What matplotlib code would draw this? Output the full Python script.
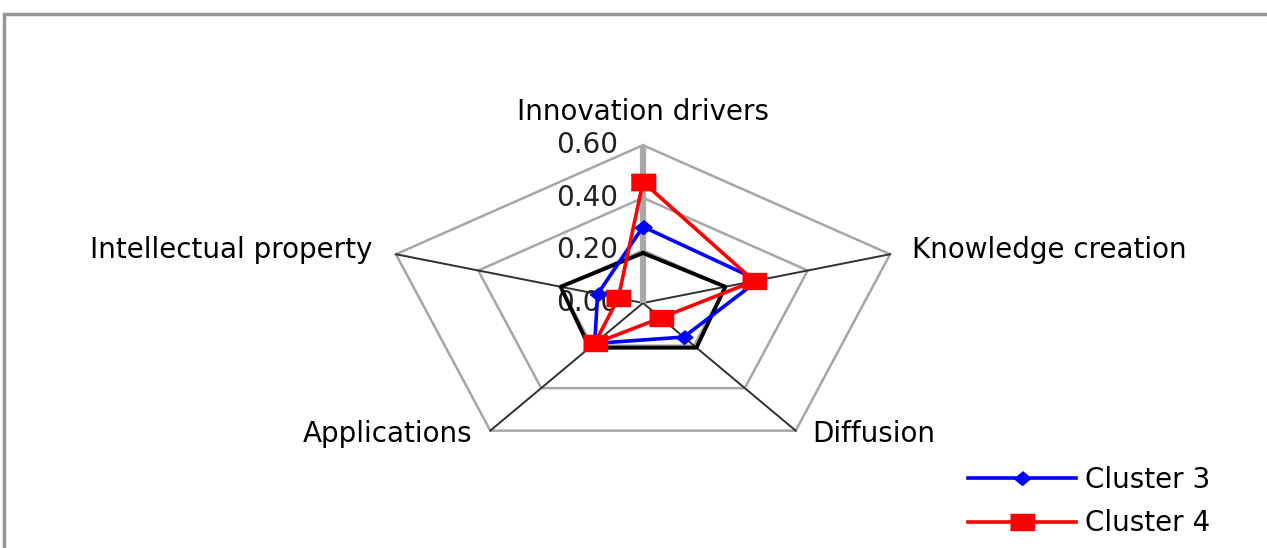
import numpy as np
import matplotlib.pyplot as plt
from matplotlib.patches import Rectangle

plt.rcParams['font.family'] = ['DejaVu Sans']

# categories, clockwise from the top
categories = ['Innovation drivers', 'Knowledge creation', 'Diffusion',
              'Applications', 'Intellectual property']
cluster3 = [0.29, 0.28, 0.16, 0.19, 0.11]
cluster4 = [0.46, 0.27, 0.07, 0.19, 0.06]
overall = [0.19, 0.20, 0.21, 0.21, 0.20]
grid_levels = [0.2, 0.4, 0.6]
tick_values = [0.0, 0.2, 0.4, 0.6]
tick_labels = ['0.00', '0.20', '0.40', '0.60']

W, H = 1267, 548
fig = plt.figure(figsize=(W / 100, H / 100), dpi=100)
ax = fig.add_axes([0, 0, 1, 1])

# the original chart is stretched sideways: 433 px per unit across, 263 px per unit up
cx, cy = 643, 303
sx, sy = 433, 263
ax.set_xlim(-cx / sx, (W - cx) / sx)
ax.set_ylim(-(H - cy) / sy, cy / sy)
ax.axis('off')

theta = np.deg2rad(np.arange(5) * 72)


def to_xy(vals, closed=True):
    v = np.asarray(vals, dtype=float)
    x = v * np.sin(theta)
    y = v * np.cos(theta)
    if closed:
        x = np.append(x, x[0])
        y = np.append(y, y[0])
    return x, y


# grid pentagons
for lv in grid_levels:
    gx, gy = to_xy([lv] * 5)
    ax.plot(gx, gy, color='#a6a6a6', lw=1.8, zorder=1)

# spokes
ex, ey = to_xy([0.6] * 5, closed=False)
for i in range(1, 5):
    ax.plot([0, ex[i]], [0, ey[i]], color='#303030', lw=1.4, zorder=1)
ax.plot([0, 0], [0, 0.6], color='#a8a8a8', lw=4.5, zorder=1, solid_capstyle='butt')

# value labels on the top axis
for v, t in zip(tick_values, tick_labels):
    ax.text(-0.058, v, t, ha='right', va='center', fontsize=20, color='#222222', zorder=2)

# series
bx, by = to_xy(overall)
ax.plot(bx, by, color='black', lw=2.8, zorder=3)

diamond = [(0, 1), (1.2, 0), (0, -1), (-1.2, 0)]
rect = [(-1.4, -1), (1.4, -1), (1.4, 1), (-1.4, 1)]
x3, y3 = to_xy(cluster3)
ax.plot(x3, y3, color='#0000ff', lw=2.6, marker=diamond, ms=12, zorder=4, label='Cluster 3')
x4, y4 = to_xy(cluster4)
ax.plot(x4, y4, color='#ff0000', lw=2.6, marker=rect, ms=17, zorder=5, label='Cluster 4')

# category labels
fs = 20
ax.text(0, 0.726, categories[0], ha='center', va='center', fontsize=fs)
ax.text(0.621, 0.2, categories[1], ha='left', va='center', fontsize=fs)
ax.text(0.39, -0.498, categories[2], ha='left', va='center', fontsize=fs)
ax.text(-0.395, -0.498, categories[3], ha='right', va='center', fontsize=fs)
ax.text(-0.626, 0.2, categories[4], ha='right', va='center', fontsize=fs)

ax.legend(loc='upper left', bbox_to_anchor=(968 / W, 1 - 466 / H), frameon=False,
          fontsize=20, handlelength=3.9, handletextpad=0.3, labelspacing=0.55,
          borderpad=0, borderaxespad=0)

# grey frame of the chart area, running off the right and bottom edge
fig.patches.append(Rectangle((4 / W, -0.1), 1.2, 1 - 14 / H + 0.1, transform=fig.transFigure,
                             fill=False, edgecolor='#969696', lw=2.5))

fig.savefig('out.png', dpi=100)
